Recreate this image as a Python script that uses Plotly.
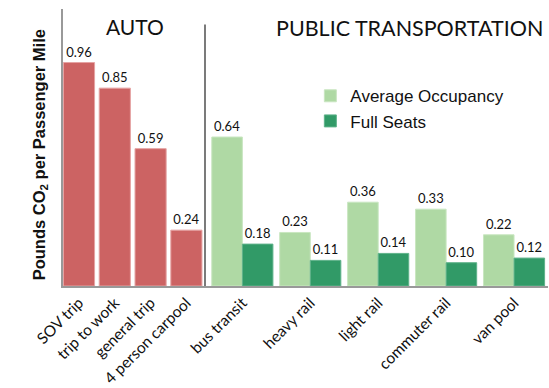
import plotly.graph_objects as go

auto_categories = ["SOV trip", "trip to work", "general trip", "4 person carpool"]
auto_values = [0.96, 0.85, 0.59, 0.24]

public_categories = ["bus transit", "heavy rail", "light rail", "commuter rail", "van pool"]
avg_occupancy = [0.64, 0.23, 0.36, 0.33, 0.22]
full_seats = [0.18, 0.11, 0.14, 0.10, 0.12]

RED = "#CC6363"
LIGHT = "#AFD9A4"
DARK = "#319A67"
label_font = dict(family="Lato, Open Sans, sans-serif", size=13, color="#111")

fig = go.Figure()
fig.add_trace(go.Bar(
    x=auto_categories, y=auto_values, xaxis="x", yaxis="y",
    marker=dict(color=RED, line=dict(color="#E5A3A3", width=1)),
    width=0.87, text=[f"{v:.2f}" for v in auto_values], textposition="outside",
    textfont=label_font, cliponaxis=False, showlegend=False,
))
fig.add_trace(go.Bar(
    x=public_categories, y=avg_occupancy, xaxis="x2", yaxis="y2",
    name="Average Occupancy",
    marker=dict(color=LIGHT, line=dict(color="#C9E6C1", width=1)),
    text=[f"{v:.2f}" for v in avg_occupancy], textposition="outside",
    textfont=label_font, cliponaxis=False,
))
fig.add_trace(go.Bar(
    x=public_categories, y=full_seats, xaxis="x2", yaxis="y2",
    name="Full Seats",
    marker=dict(color=DARK, line=dict(color="#5FB28A", width=1)),
    text=[f"{v:.2f}" for v in full_seats], textposition="outside",
    textfont=label_font, cliponaxis=False,
))

split = (205 - 63) / 485
tick_font = dict(family="Lato, Open Sans, sans-serif", size=15.5, color="#111")
fig.update_layout(
    width=549, height=388,
    margin=dict(l=63, r=1, t=9, b=95),
    paper_bgcolor="white", plot_bgcolor="white",
    barmode="group", bargap=0.1, bargroupgap=0,
    xaxis=dict(domain=[0, split], range=[-0.447, 3.52], tickangle=-45,
               tickfont=tick_font, showline=True, linecolor="#999", linewidth=1.5,
               ticks="", showgrid=False, fixedrange=True),
    xaxis2=dict(domain=[split, 1], range=[-0.55, 4.5], tickangle=-45, anchor="y2",
                tickfont=tick_font, showline=True, linecolor="#999", linewidth=1.5,
                ticks="", showgrid=False),
    yaxis=dict(range=[0, 1.19], showline=True, linecolor="#999", linewidth=1.5,
               showticklabels=False, ticks="", showgrid=False, zeroline=False),
    yaxis2=dict(range=[0, 1.19], anchor="x2", matches="y", showline=False,
                showticklabels=False, ticks="", showgrid=False, zeroline=False),
    legend=dict(x=0.51, y=0.75, xanchor="left", yanchor="top",
                font=dict(family="Liberation Sans, Arial, sans-serif", size=17, color="#111"),
                bgcolor="rgba(0,0,0,0)", tracegroupgap=0),
    shapes=[dict(type="line", xref="paper", yref="paper", x0=split, x1=split,
                 y0=0, y1=(293 - 25) / 284, line=dict(color="#222", width=1.2))],
    annotations=[
        dict(text="AUTO", xref="paper", yref="paper", x=(135 - 63) / 485, y=(293 - 27) / 284,
             xanchor="center", yanchor="middle", showarrow=False,
             font=dict(family="Lato, Open Sans, sans-serif", size=21, color="#111")),
        dict(text="PUBLIC TRANSPORTATION", xref="paper", yref="paper", x=(409 - 63) / 485,
             y=(293 - 28) / 284, xanchor="center", yanchor="middle", showarrow=False,
             font=dict(family="Lato, Open Sans, sans-serif", size=21.5, color="#111")),
        dict(text="<b>Pounds CO<sub>2</sub> per Passenger Mile</b>", xref="paper", yref="paper",
             x=(40 - 63) / 485, y=(293 - 159) / 284, xanchor="center", yanchor="middle",
             textangle=-90, showarrow=False,
             font=dict(family="Liberation Sans, Arial, sans-serif", size=16.5, color="#111")),
    ],
)

fig.write_html("out.html", config={"displayModeBar": False},
               post_script="document.body.style.margin='0';")
